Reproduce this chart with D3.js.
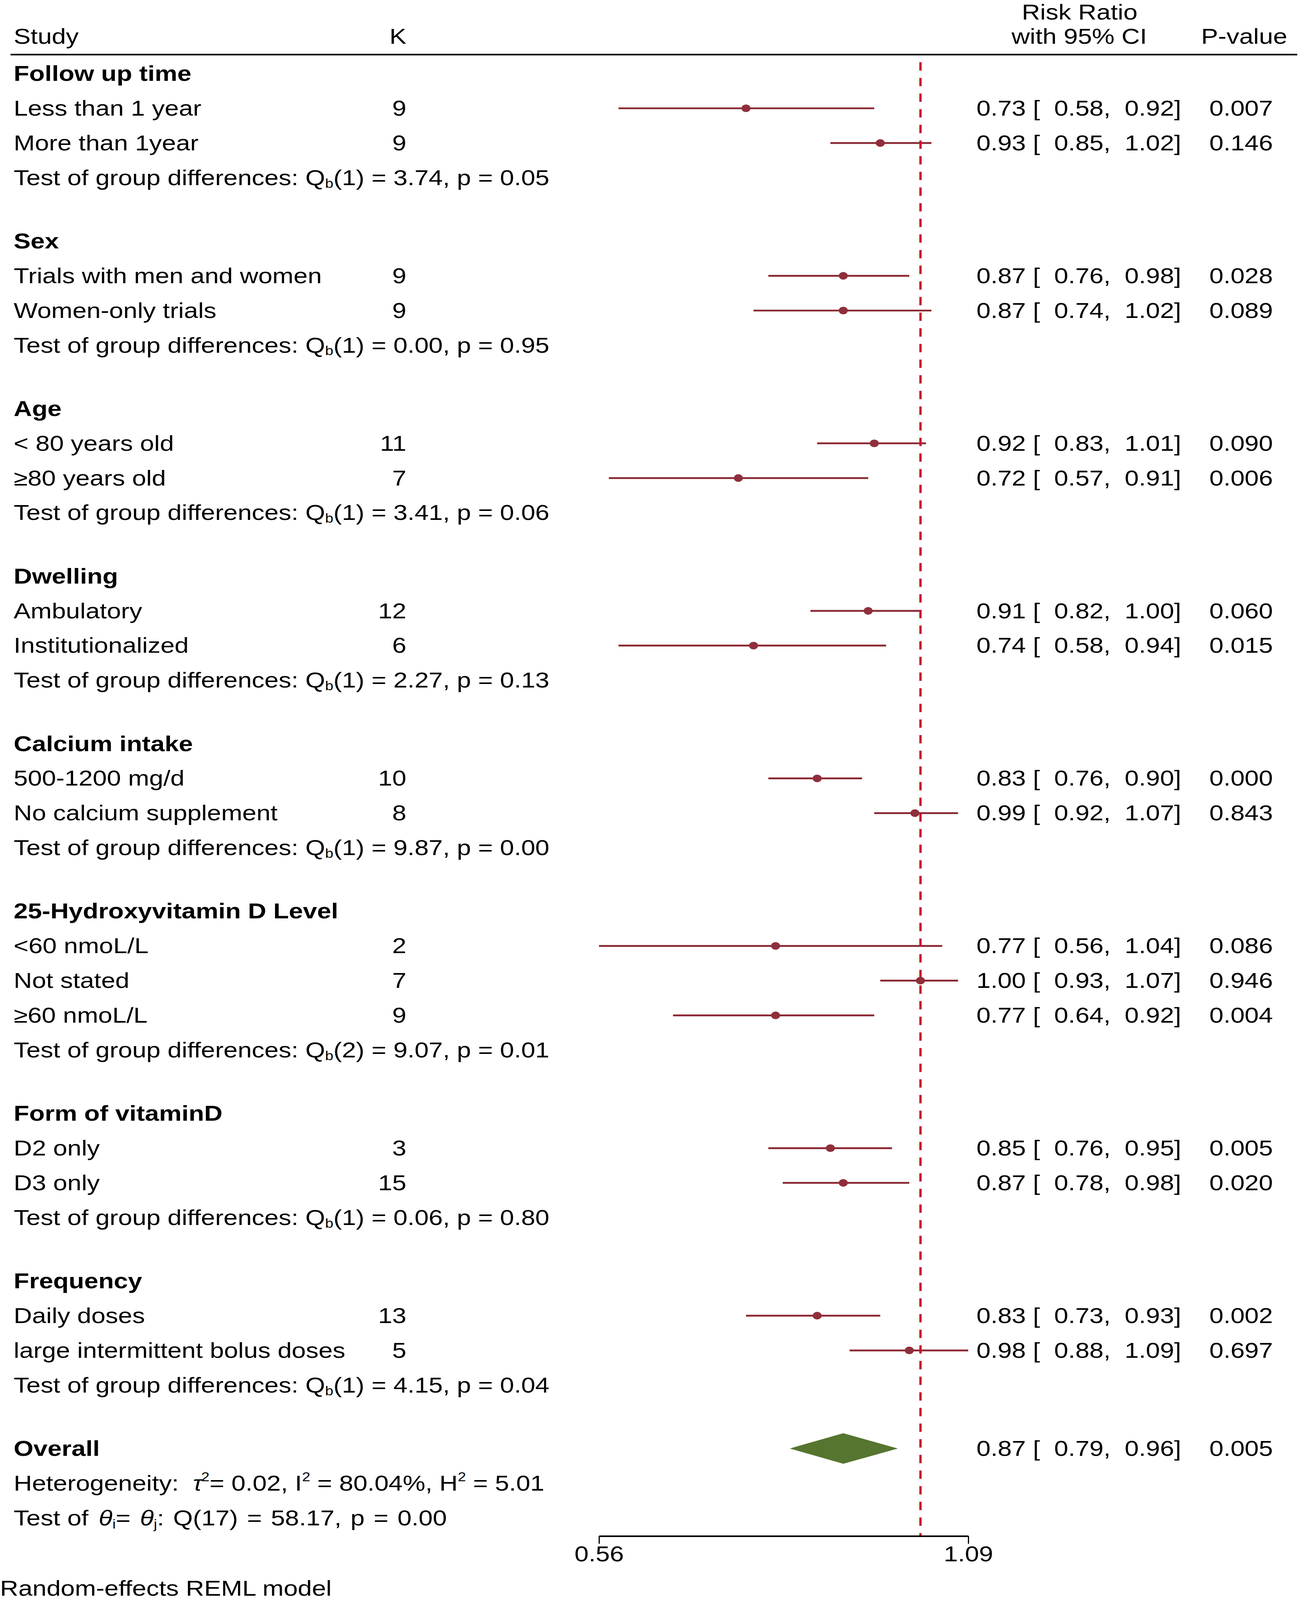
<!DOCTYPE html>
<html>
<head>
<meta charset="utf-8">
<script src="https://cdn.jsdelivr.net/npm/d3@7"></script>
<style>
  html, body { margin: 0; padding: 0; background: #fff; overflow: hidden; }
  svg { display: block; }
  text { font-family: "Liberation Sans", Arial, sans-serif; white-space: pre; }
</style>
</head>
<body>
<svg id="forest"></svg>
<script>
// subgroup names, in the order they are drawn
const groupNames = [
  "Follow up time", "Sex", "Age", "Dwelling", "Calcium intake",
  "25-Hydroxyvitamin D Level", "Form of vitaminD", "Frequency"
];

// one entry per subgroup estimate
const studyLabels = [
  "Less than 1 year", "More than 1year",
  "Trials with men and women", "Women-only trials",
  "< 80 years old", "\u226580 years old",
  "Ambulatory", "Institutionalized",
  "500-1200 mg/d", "No calcium supplement",
  "<60 nmoL/L", "Not stated", "\u226560 nmoL/L",
  "D2 only", "D3 only",
  "Daily doses", "large intermittent bolus doses"
];
const studyGroup = [0, 0, 1, 1, 2, 2, 3, 3, 4, 4, 5, 5, 5, 6, 6, 7, 7];
const kValues   = [9, 9, 9, 9, 11, 7, 12, 6, 10, 8, 2, 7, 9, 3, 15, 13, 5];
const rrValues  = [0.73, 0.93, 0.87, 0.87, 0.92, 0.72, 0.91, 0.74, 0.83, 0.99, 0.77, 1.00, 0.77, 0.85, 0.87, 0.83, 0.98];
const ciLow     = [0.58, 0.85, 0.76, 0.74, 0.83, 0.57, 0.82, 0.58, 0.76, 0.92, 0.56, 0.93, 0.64, 0.76, 0.78, 0.73, 0.88];
const ciHigh    = [0.92, 1.02, 0.98, 1.02, 1.01, 0.91, 1.00, 0.94, 0.90, 1.07, 1.04, 1.07, 0.92, 0.95, 0.98, 0.93, 1.09];
const pValues   = ["0.007", "0.146", "0.028", "0.089", "0.090", "0.006", "0.060", "0.015", "0.000", "0.843",
                   "0.086", "0.946", "0.004", "0.005", "0.020", "0.002", "0.697"];

// test of group differences per subgroup
const testDf = [1, 1, 1, 1, 1, 2, 1, 1];
const testQ  = ["3.74", "0.00", "3.41", "2.27", "9.87", "9.07", "0.06", "4.15"];
const testP  = ["0.05", "0.95", "0.06", "0.13", "0.00", "0.01", "0.80", "0.04"];

// overall estimate
const overallRR = 0.87, overallLow = 0.79, overallHigh = 0.96, overallP = "0.005";
const heterogeneity = { tau2: "0.02", i2: "80.04%", h2: "5.01" };
const overallQ = { df: 17, q: "58.17", p: "0.00" };

const axisTicks = [0.56, 1.09];

const W = 3327, H = 4806;
const FS = 65;
const lineColor = "#8b2833", dotColor = "#8f2f3b", nullColor = "#c8102e", diamondColor = "#56752f";

// the window is shorter than asked for, so stretch the drawing to whatever it is
const svg = d3.select("#forest")
  .attr("viewBox", [0, 0, W, H])
  .attr("preserveAspectRatio", "none")
  .style("width", "100vw")
  .style("height", "100vh");

const x = d3.scaleLog().domain([0.56, 1.09]).range([1533, 2478]);

// row i within group g -> text baseline
function base(i, g) { return 243 + i * 104.3 + g * 86; }

// flatten the table into lines
const lines = [];
let row = 0;
groupNames.forEach((name, g) => {
  lines.push({ type: "header", i: row++, g: g, name: name });
  studyLabels.forEach((lab, s) => {
    if (studyGroup[s] === g) lines.push({ type: "study", i: row++, g: g, s: s });
  });
  lines.push({ type: "test", i: row++, g: g });
});
const overallRow = row;

function fmt2(v) { return d3.format(".2f")(v); }
function ciText(rr, lo, hi) {
  return fmt2(rr) + " [ " + " " + fmt2(lo) + ", " + " " + fmt2(hi) + "]";
}

// column headings
svg.append("text").attr("x", 35).attr("y", 132).attr("font-size", FS).text("Study");
svg.append("text").attr("x", 1040).attr("y", 132).attr("font-size", FS).attr("text-anchor", "end").text("K");
svg.append("text").attr("x", 2763).attr("y", 59).attr("font-size", FS).attr("text-anchor", "middle").text("Risk Ratio");
svg.append("text").attr("x", 2762).attr("y", 132).attr("font-size", FS).attr("text-anchor", "middle").text("with 95% CI");
svg.append("text").attr("x", 3074).attr("y", 132).attr("font-size", FS).text("P-value");
svg.append("line").attr("x1", 27).attr("x2", 3320).attr("y1", 164).attr("y2", 164)
  .attr("stroke", "#000").attr("stroke-width", 4.5);

// left text column
const studies = lines.filter(d => d.type === "study");

lines.filter(d => d.type === "header").forEach(d => {
  svg.append("text").attr("x", 35).attr("y", base(d.i, d.g))
    .attr("font-size", FS).attr("font-weight", "bold").text(d.name);
});

studies.forEach(d => {
  const y = base(d.i, d.g);
  svg.append("text").attr("x", 35).attr("y", y).attr("font-size", FS).text(studyLabels[d.s]);
  svg.append("text").attr("x", 1040).attr("y", y).attr("font-size", FS)
    .attr("text-anchor", "end").text(kValues[d.s]);
  svg.append("text").attr("x", 2499).attr("y", y).attr("font-size", FS)
    .text(ciText(rrValues[d.s], ciLow[d.s], ciHigh[d.s]));
  svg.append("text").attr("x", 3095).attr("y", y).attr("font-size", FS).text(pValues[d.s]);
});

lines.filter(d => d.type === "test").forEach(d => {
  const t = svg.append("text").attr("x", 35).attr("y", base(d.i, d.g)).attr("font-size", FS);
  t.append("tspan").text("Test of group differences: Q");
  t.append("tspan").attr("font-size", 38).attr("dy", 8).text("b");
  t.append("tspan").attr("dy", -8).text("(" + testDf[d.g] + ") = " + testQ[d.g] + ", p = " + testP[d.g]);
});

// CI lines
svg.append("g").selectAll("line")
  .data(studies)
  .join("line")
  .attr("x1", d => x(ciLow[d.s]))
  .attr("x2", d => x(ciHigh[d.s]))
  .attr("y1", d => base(d.i, d.g) - 22)
  .attr("y2", d => base(d.i, d.g) - 22)
  .attr("stroke", lineColor)
  .attr("stroke-width", 5.5);

// null line at RR = 1
svg.append("line")
  .attr("x1", x(1)).attr("x2", x(1))
  .attr("y1", 187).attr("y2", 4614)
  .attr("stroke", nullColor)
  .attr("stroke-width", 6)
  .attr("stroke-dasharray", "25,22");

// point estimates
svg.append("g").selectAll("circle")
  .data(studies)
  .join("circle")
  .attr("cx", d => x(rrValues[d.s]))
  .attr("cy", d => base(d.i, d.g) - 22)
  .attr("r", 11.5)
  .attr("fill", dotColor);

// overall
const yo = base(overallRow, groupNames.length);
svg.append("text").attr("x", 35).attr("y", yo).attr("font-size", FS).attr("font-weight", "bold").text("Overall");
svg.append("polygon")
  .attr("points", [
    [x(overallLow), yo - 22], [x(overallRR), yo - 68],
    [x(overallHigh), yo - 22], [x(overallRR), yo + 24]
  ].map(p => p.join(",")).join(" "))
  .attr("fill", diamondColor);
svg.append("text").attr("x", 2499).attr("y", yo).attr("font-size", FS)
  .text(ciText(overallRR, overallLow, overallHigh));
svg.append("text").attr("x", 3095).attr("y", yo).attr("font-size", FS).text(overallP);

// heterogeneity line
const yh = base(overallRow + 1, groupNames.length);
const th = svg.append("text").attr("x", 35).attr("y", yh).attr("font-size", FS);
th.append("tspan").text("Heterogeneity:  ");
th.append("tspan").attr("font-style", "italic").text("\u03c4");
th.append("tspan").attr("font-size", 38).attr("dy", -28).attr("dx", -3).text("2");
th.append("tspan").attr("dy", 28).text("= " + heterogeneity.tau2 + ", I");
th.append("tspan").attr("font-size", 38).attr("dy", -28).text("2");
th.append("tspan").attr("dy", 28).text(" = " + heterogeneity.i2 + ", H");
th.append("tspan").attr("font-size", 38).attr("dy", -28).text("2");
th.append("tspan").attr("dy", 28).text(" = " + heterogeneity.h2);

// test of homogeneity line
const yq = base(overallRow + 2, groupNames.length);
const tq = svg.append("text").attr("x", 35).attr("y", yq).attr("font-size", FS);
tq.append("tspan").text("Test of ");
tq.append("tspan").attr("font-style", "italic").attr("dx", 8).text("\u03b8");
tq.append("tspan").attr("font-size", 38).attr("dy", 10).text("i");
tq.append("tspan").attr("dy", -10).text("= ");
tq.append("tspan").attr("font-style", "italic").attr("dx", 6).text("\u03b8");
tq.append("tspan").attr("font-size", 38).attr("dy", 10).text("j");
tq.append("tspan").attr("dy", -10).attr("word-spacing", 5)
  .text(": Q(" + overallQ.df + ") = " + overallQ.q + ", p = " + overallQ.p);

// x axis
const axis = svg.append("g")
  .attr("transform", "translate(0,4614)")
  .call(d3.axisBottom(x)
    .tickValues(axisTicks)
    .tickFormat(d3.format(".2f"))
    .tickSize(23)
    .tickSizeOuter(0)
    .tickPadding(7));
axis.attr("font-size", null).attr("font-family", null);
axis.select(".domain").attr("stroke", "#000").attr("stroke-width", 4.5);
axis.selectAll(".tick line").attr("stroke", "#000").attr("stroke-width", 3);
axis.selectAll(".tick text").attr("font-size", FS).attr("fill", "#000");

svg.append("text").attr("x", 0).attr("y", 4793).attr("font-size", FS).text("Random-effects REML model");
</script>
</body>
</html>
